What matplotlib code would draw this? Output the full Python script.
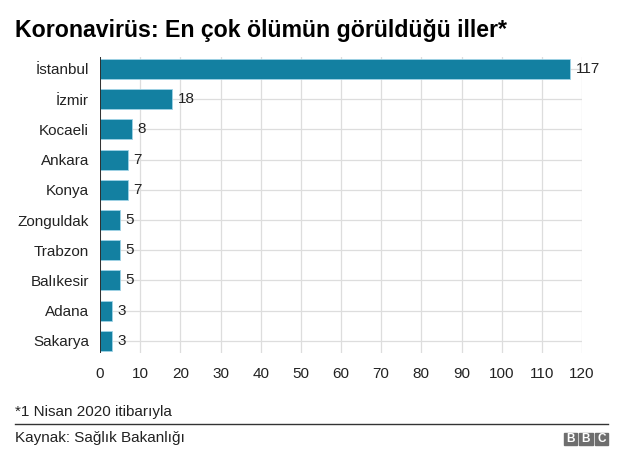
import matplotlib.pyplot as plt
from matplotlib.patches import Rectangle

plt.rcParams['font.family'] = ['Liberation Sans', 'DejaVu Sans']

cities = ['İstanbul', 'İzmir', 'Kocaeli', 'Ankara', 'Konya',
          'Zonguldak', 'Trabzon', 'Balıkesir', 'Adana', 'Sakarya']
deaths = [117, 18, 8, 7, 7, 5, 5, 5, 3, 3]
xticks = list(range(0, 121, 10))

title = 'Koronavirüs: En çok ölümün görüldüğü iller*'
note = '*1 Nisan 2020 itibarıyla'
source = 'Kaynak: Sağlık Bakanlığı'

bar_color = '#1380a1'
text_color = '#222222'

fig = plt.figure(figsize=(6.24, 4.66), dpi=100)
ax = fig.add_axes([100 / 624, 0.2425, 482 / 624, 0.6355])

ypos = list(range(len(cities)))
ax.barh(ypos, deaths, height=0.66, color=bar_color, edgecolor='#9fd3e6',
        linewidth=0.6, zorder=3)
for y, v in zip(ypos, deaths):
    ax.text(v + 1.4, y, str(v), va='center', ha='left', fontsize=11,
            color=text_color, zorder=4)

ax.set_xlim(0, 120)
ax.set_ylim(9.4, -0.4)
ax.set_xticks(xticks)
ax.set_yticks(ypos)
ax.set_yticklabels(cities)
ax.tick_params(axis='both', length=0, labelsize=11, colors=text_color)
ax.tick_params(axis='x', pad=10)
ax.tick_params(axis='y', pad=8)
ax.grid(True, color='#dddddd', linewidth=0.9, zorder=0)
ax.axvline(0, color='#222222', linewidth=1.3, zorder=5)
for s in ax.spines.values():
    s.set_visible(False)

fig.text(15 / 624, 1 - 31 / 466, title, fontsize=16.7, fontweight='bold',
         color='black', va='center', ha='left')
fig.text(15 / 624, 1 - 412 / 466, note, fontsize=11, color=text_color,
         va='center', ha='left')
fig.add_artist(plt.Line2D([15 / 624, 608 / 624], [1 - 424 / 466, 1 - 424 / 466],
                          color='#333333', linewidth=1.0))
fig.text(15 / 624, 1 - 438 / 466, source, fontsize=11, color=text_color,
         va='center', ha='left')

# BBC logo blocks
bw, bh, gap = 13.3 / 624, 11.5 / 466, 2 / 624
x0, y0 = 564 / 624, 1 - 444.5 / 466
for i, ch in enumerate('BBC'):
    xx = x0 + i * (bw + gap)
    fig.add_artist(Rectangle((xx, y0), bw, bh, transform=fig.transFigure,
                             color='#6e6e6e'))
    fig.text(xx + bw / 2, y0 + bh / 2, ch, fontsize=8.5, fontweight='bold',
             color='white', ha='center', va='center')

fig.savefig('out.png', dpi=100)
